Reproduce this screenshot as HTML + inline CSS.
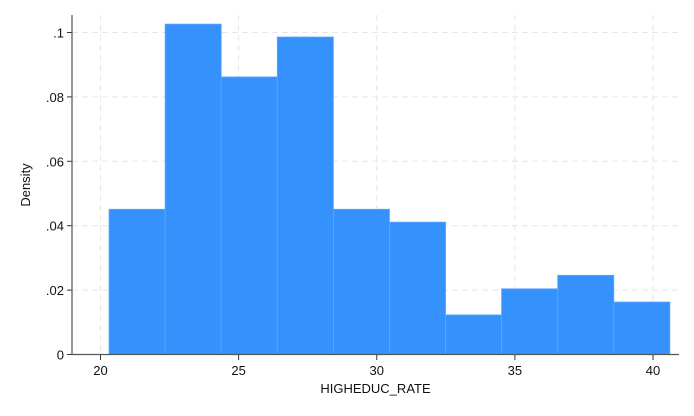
<!DOCTYPE html>
<html><head><meta charset="utf-8"><style>
body{margin:0;background:#fff}
svg{display:block;font-family:"Liberation Sans",Arial,sans-serif}
</style></head><body>
<svg id="chart" width="694" height="416">
<g id="grid"></g><g id="bars"></g><g id="axes"></g>
</svg>
<script>
const binStart = 20.31;
const binWidth = 2.03;
const densities = [0.0451, 0.1026, 0.0862, 0.0986, 0.0451, 0.0411, 0.0123, 0.0204, 0.0246, 0.0163];
const xTicks = [20, 25, 30, 35, 40];
const yTicks = [0, 0.02, 0.04, 0.06, 0.08, 0.1];
const yTickLabels = ["0", ".02", ".04", ".06", ".08", ".1"];

const NS = "http://www.w3.org/2000/svg";
const xS = v => 100.5 + (v - 20) * 27.625;
const yS = v => 354.5 - v * 3220;
function mk(tag, attrs, parent, text){
  const e = document.createElementNS(NS, tag);
  for (const k in attrs) e.setAttribute(k, attrs[k]);
  if (text !== undefined) e.textContent = text;
  parent.appendChild(e); return e;
}
const grid = document.getElementById('grid'), bars = document.getElementById('bars'), axes = document.getElementById('axes');
yTicks.forEach((t,i) => {
  if (i > 0) {
    const g = mk('line', {x1:72, x2:679, y1:yS(t), y2:yS(t), stroke:'#e6e6e6', 'stroke-dasharray':'6,4'}, grid);
    
    
  }
  mk('line', {x1:67, x2:72, y1:yS(t), y2:yS(t), stroke:'#333'}, axes);
  const l = mk('text', {x:64, y:yS(t)+5, 'text-anchor':'end', 'font-size':13, fill:'#111'}, axes, yTickLabels[i]);
  
  
});
xTicks.forEach(t => {
  const g = mk('line', {x1:xS(t), x2:xS(t), y1:15, y2:354.5, stroke:'#e6e6e6', 'stroke-dasharray':'6,4'}, grid);
  
  
  mk('line', {x1:xS(t), x2:xS(t), y1:354.5, y2:360, stroke:'#333'}, axes);
  const l = mk('text', {x:xS(t), y:375, 'text-anchor':'middle', 'font-size':13, fill:'#111'}, axes, String(t));
  
  
});
densities.forEach((d,i) => {
  const x0 = xS(binStart + i*binWidth), x1 = xS(binStart + (i+1)*binWidth);
  const r = mk('rect', {x:x0, y:yS(d), width:x1-x0, height:yS(0)-yS(d), fill:'#3592fc', stroke:'#5aa6fc', 'stroke-width':0.8}, bars);
  
  
});
const ya = mk('line', {x1:72, x2:72, y1:15, y2:355, stroke:'#555', 'stroke-width':1.2}, axes);


const xa = mk('line', {x1:72, x2:679, y1:354.5, y2:354.5, stroke:'#555', 'stroke-width':1.2}, axes);


const xt = mk('text', {x:375.5, y:393, 'text-anchor':'middle', 'font-size':13, fill:'#111'}, axes, 'HIGHEDUC_RATE');


const yt = mk('text', {x:0, y:0, 'text-anchor':'middle', 'font-size':13, fill:'#111', transform:'translate(30,185) rotate(-90)'}, axes, 'Density');


</script>
</body></html>
